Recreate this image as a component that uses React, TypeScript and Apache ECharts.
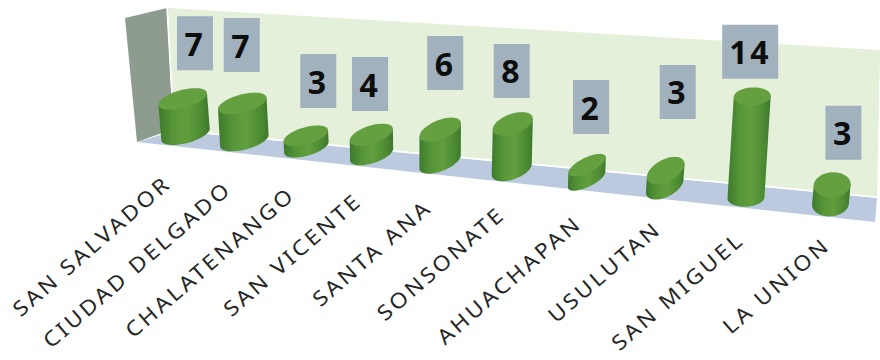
import React, { useEffect, useRef } from "react";
import * as echarts from "echarts";

const categories = ["SAN SALVADOR", "CIUDAD DELGADO", "CHALATENANGO", "SAN VICENTE", "SANTA ANA", "SONSONATE", "AHUACHAPAN", "USULUTAN", "SAN MIGUEL", "LA UNION"];
const values = [7, 7, 3, 4, 6, 8, 2, 3, 14, 3];

// layout of the hand-placed look of the source picture (not data)
const capA = [25, 25, 23, 22.5, 22, 21, 20.5, 20.5, 18.5, 18.5];
const capB = [9, 9, 8.5, 9, 9.5, 10, 7.5, 11, 9, 12.5];
const capTilt = [-15, -15, -16, -18, -22, -20, -26, -28, -3, -5];
const capLift = [3, 3, -4, -2, -2, -2, 2, -4, 7, -2];
const baseShift = [0, 0, 0, 0, 0, 0, 2, 0, 3, 0];
const boxDx = [12.3, -0.5, 12.5, -1.2, 5, -1, 4, 12, -2, 11.3];
const boxDy = [-58.8, -61.4, -50.7, -48.6, -64.6, -51, -60, -74.6, -51.6, -50];

const Y_MAX = 20;
const H = 360;
const W = 880;
const unitPx = H / Y_MAX;

const projX = (u: number) => 185.5 + 515 * u + 130 * u * u;
const floorY = (x: number) => 134 + (x - 184) * 0.108;
const unitH = (u: number) => 4.6 + 2.4 * u;
const lean = (u: number) => -0.4 + 0.95 * u;

function ellipseAt(cx: number, cy: number, a: number, b: number, th: number, t: number) {
  return [
    cx + a * Math.cos(t) * Math.cos(th) - b * Math.sin(t) * Math.sin(th),
    cy + a * Math.cos(t) * Math.sin(th) + b * Math.sin(t) * Math.cos(th),
  ];
}

function renderItem(_params: any, api: any) {
  const i = api.value(0);
  const v = api.value(1);
  const p0 = api.coord([i, 0]);
  const p1 = api.coord([i, v]);
  const u = (p0[0] - W / 20) / (W - W / 10);
  const bx = projX(u);
  const by = floorY(bx) + baseShift[i];
  const units = (p0[1] - p1[1]) / unitPx;
  const tx = bx + units * lean(u);
  const tyRaw = by - units * unitH(u);
  const ty = tyRaw - capLift[i];
  const a = capA[i];
  const b = capB[i];
  const th = (capTilt[i] * Math.PI) / 180;
  // parameter of the right-hand tangent point of the ellipse
  let t0 = Math.atan2(-b * Math.sin(th), a * Math.cos(th));
  if (ellipseAt(0, 0, a, b, th, t0)[0] < 0) t0 += Math.PI;
  const N = 48;
  const lower: number[][] = [];
  for (let k = 0; k <= N; k++) lower.push(ellipseAt(bx, by, a, b, th, t0 + (Math.PI * k) / N));
  const right = ellipseAt(tx, ty, a, b, th, t0);
  const left = ellipseAt(tx, ty, a, b, th, t0 + Math.PI);
  const bodyPts = [right, ...lower, left];
  const capPts: number[][] = [];
  for (let k = 0; k < N * 2; k++) capPts.push(ellipseAt(tx, ty, a, b, th, (Math.PI * k) / N));
  const cx = tx + boxDx[i];
  const cy = tyRaw + boxDy[i];
  const boxW = v >= 10 ? 56 : 36;
  return {
    type: "group",
    children: [
      {
        type: "polygon",
        shape: { points: bodyPts },
        style: {
          fill: new echarts.graphic.LinearGradient(0, 0, 1, 0, [
            { offset: 0, color: "#3d7a2c" },
            { offset: 0.3, color: "#579638" },
            { offset: 0.55, color: "#619e3e" },
            { offset: 0.85, color: "#4c8a33" },
            { offset: 1, color: "#3c772c" },
          ]),
        },
      },
      { type: "polygon", shape: { points: capPts }, style: { fill: "#65a040" } },
      {
        type: "rect",
        shape: { x: cx - boxW / 2, y: cy - 27, width: boxW, height: 54 },
        style: { fill: "#a1b1be" },
      },
      {
        type: "text",
        x: cx,
        y: cy,
        style: {
          text: String(v),
          align: "center",
          verticalAlign: "middle",
          fontFamily: "Noto Sans",
          fontWeight: 700,
          fontSize: 32,
          fill: "#0d0d0d",
        },
      },
      {
        type: "text",
        x: bx - 18.5 + 14 * u,
        y: by + 45 - 8 * u,
        rotation: (41 * Math.PI) / 180,
        scaleX: 1.1,
        style: {
          text: categories[i],
          align: "right",
          verticalAlign: "middle",
          fontFamily: "Noto Sans",
          fontSize: 21,
          fill: "#262626",
        },
      },
    ],
  };
}

export default function App() {
  const ref = useRef<HTMLDivElement>(null);
  useEffect(() => {
    const chart = echarts.init(ref.current!, null, { renderer: "svg" });
    chart.setOption({
      animation: false,
      backgroundColor: "#ffffff",
      grid: { left: 0, right: 0, top: 0, bottom: 0 },
      xAxis: { type: "category", data: categories, show: false },
      yAxis: { type: "value", min: 0, max: Y_MAX, show: false },
      graphic: [
        {
          type: "polygon",
          z: 0,
          silent: true,
          shape: { points: [[168, 8], [880, 50], [877, 197], [174, 130]] },
          style: { fill: "#e4f0da" },
        },
        {
          type: "polygon",
          z: 0,
          silent: true,
          shape: { points: [[125, 18], [167, 8], [173, 129], [137, 142]] },
          style: { fill: "#8e9b8f" },
        },
        {
          type: "polygon",
          z: 0,
          silent: true,
          shape: { points: [[137, 142], [174, 131], [877, 198], [875, 222]] },
          style: { fill: "#bccadf" },
        },
        {
          type: "polyline",
          z: 0,
          silent: true,
          shape: { points: [[167, 8], [174, 130], [877, 197]] },
          style: { stroke: "#ffffff", lineWidth: 1.5, fill: "none" },
        },
      ],
      series: [
        {
          type: "custom",
          coordinateSystem: "cartesian2d",
          clip: false,
          silent: true,
          data: values.map((v, i) => [i, v]),
          encode: { x: 0, y: 1 },
          renderItem,
        },
      ],
    });
    return () => chart.dispose();
  }, []);
  return (
    <div>
      <style>{".c3d text { letter-spacing: 2.6px; }"}</style>
      <div className="c3d" ref={ref} style={{ position: "fixed", left: 0, top: 0, width: W, height: H }} />
    </div>
  );
}
